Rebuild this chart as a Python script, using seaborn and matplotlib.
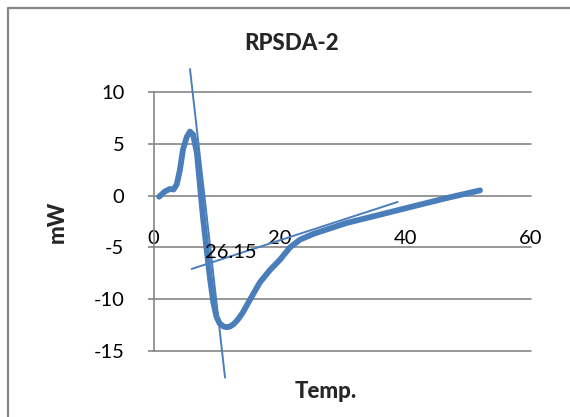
import matplotlib
matplotlib.use("Agg")
import matplotlib.pyplot as plt
import seaborn as sns
import pandas as pd
from matplotlib.lines import Line2D

# ---- data ----
temp = [0.9, 1.8, 2.6, 3.2, 3.7, 4.2, 4.7, 5.3, 5.8, 6.3, 6.9, 7.4, 7.9, 8.5,
        9.0, 9.5, 10.0, 10.5, 11.1, 11.6, 12.1, 12.7, 13.4, 14.2, 15.3, 16.9,
        18.5, 20.1, 21.7, 23.3, 25.4, 30.7, 36.0, 41.3, 46.6, 51.9]
mw = [-0.1, 0.4, 0.65, 0.6, 1.1, 2.5, 4.5, 5.7, 6.2, 5.9, 4.1, 0.9, -2.3, -5.5,
      -8.1, -10.3, -11.7, -12.35, -12.65, -12.72, -12.68, -12.45, -12.0, -11.3,
      -10.1, -8.4, -7.2, -6.2, -5.0, -4.25, -3.7, -2.64, -1.84, -1.03, -0.23, 0.51]
steep_x = [5.8, 11.37]
steep_y = [12.25, -17.6]
base_x = [6.07, 38.8]
base_y = [-7.09, -0.61]
annot_text = "26.15"
annot_x, annot_y = 8.2, -5.5
title = "RPSDA-2"
xlabel = "Temp."
ylabel = "mW"
xticks = [0, 20, 40, 60]
yticks = [-15, -10, -5, 0, 5, 10]

sns.set_style("white")
plt.rcParams["font.family"] = ["Lato", "DejaVu Sans"]

W, H = 570, 417
fig = plt.figure(figsize=(W / 100, H / 100), dpi=100)
left, right, top, bottom = 153.5, 531, 92.3, 350.7
ax = fig.add_axes([left / W, 1 - bottom / H, (right - left) / W, (bottom - top) / H])

blue = "#4A7EBB"
grid_c = "#868686"

df = pd.DataFrame({"temp": temp, "mw": mw})
sns.lineplot(data=df, x="temp", y="mw", sort=False, ax=ax, color=blue,
             linewidth=4.2, solid_capstyle="round", solid_joinstyle="round",
             clip_on=False, zorder=4)
ax.plot(steep_x, steep_y, color=blue, linewidth=1.4, clip_on=False, zorder=5)
ax.plot(base_x, base_y, color=blue, linewidth=1.4, clip_on=False, zorder=5)

ax.set_xlim(0, 60)
ax.set_ylim(-15, 10)

# gridlines
for yv in yticks:
    ax.axhline(yv, color=grid_c, linewidth=1.2, zorder=1, clip_on=False)

for s in ["right", "bottom"]:
    ax.spines[s].set_visible(False)
ax.spines["left"].set_color(grid_c)
ax.spines["left"].set_linewidth(1.2)
ax.spines["top"].set_position(("data", -5))
ax.spines["top"].set_visible(False)

ax.set_yticks(yticks)
ax.set_yticklabels([str(v) for v in yticks])
ax.tick_params(axis="y", length=4, width=1.2, color=grid_c, pad=17,
               labelsize=14.5, labelcolor="black", left=True)

ax.xaxis.set_ticks_position("top")
ax.set_xticks(xticks)
ax.set_xticklabels([str(v) for v in xticks])
ax.tick_params(axis="x", length=0, pad=0.5, labelsize=14.5, labelcolor="black",
               top=True, bottom=False, labeltop=True, labelbottom=False)
ax.set_xlabel("")
ax.set_ylabel("")

ax.text(annot_x, annot_y, annot_text, ha="left", va="center", fontsize=14.5,
        color="black", zorder=6)

fig.text(291.5 / W, 1 - 43.5 / H, title, ha="center", va="center",
         fontsize=16, fontweight=900)
fig.text(326 / W, 1 - 392 / H, xlabel, ha="center", va="center",
         fontsize=16, fontweight=900)
fig.text(57 / W, 1 - 222 / H, ylabel, ha="center", va="center",
         fontsize=16, fontweight=900, rotation=90)

# outer chart border
fig.add_artist(Line2D([8 / W, 8 / W], [0, 1 - 8 / H], transform=fig.transFigure,
                      color=grid_c, linewidth=1.6))
fig.add_artist(Line2D([8 / W, 1], [1 - 8 / H, 1 - 8 / H], transform=fig.transFigure,
                      color=grid_c, linewidth=1.6))

fig.savefig("out.png", dpi=100)
